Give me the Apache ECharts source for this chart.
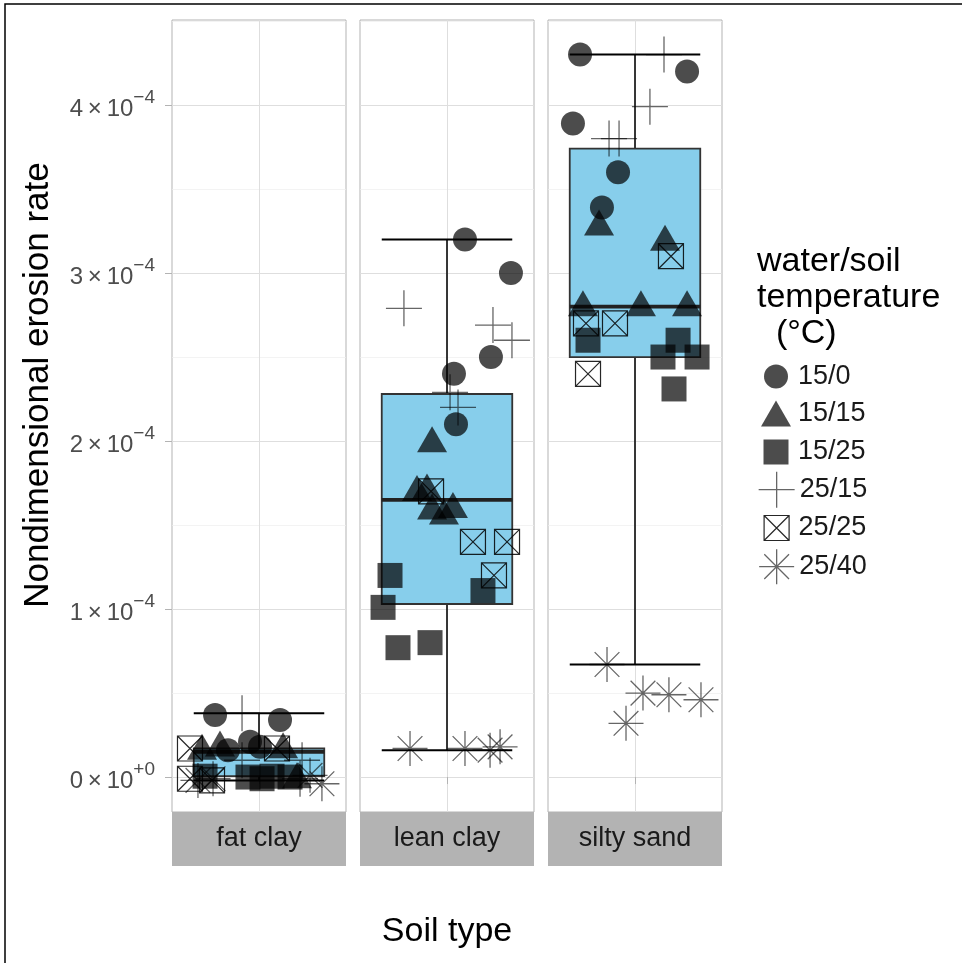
<!DOCTYPE html>
<html><head><meta charset="utf-8">
<script src="https://cdn.jsdelivr.net/npm/echarts@6/dist/echarts.min.js"></script>
<style>html,body{margin:0;padding:0;background:#fff}#c{width:962px;height:963px}</style>
</head><body><div id="c"></div><script>
// ---------------- data ----------------
const soilTypes = ['fat clay', 'lean clay', 'silty sand'];
const groups = ['15/0', '15/15', '15/25', '25/15', '25/25', '25/40'];
const majorTicks = [0, 1e-4, 2e-4, 3e-4, 4e-4];
const minorTicks = [0.5e-4, 1.5e-4, 2.5e-4, 3.5e-4, 4.5e-4];
// box stats: [x, lower whisker, Q1, median, Q3, upper whisker]
const boxFatClay   = [1, -0.02e-4, 0.005e-4, 0.15e-4, 0.17e-4, 0.38e-4];
const boxLeanClay  = [1, 0.16e-4, 1.03e-4, 1.65e-4, 2.28e-4, 3.20e-4];
const boxSiltySand = [1, 0.67e-4, 2.50e-4, 2.80e-4, 3.74e-4, 4.30e-4];
// points: [jittered x (category at 1), erosion rate]
const fat_15_0  = [[0.697,0.37e-4],[1.145,0.34e-4],[0.938,0.21e-4],[1.007,0.18e-4],[0.786,0.16e-4]];
const fat_15_15 = [[0.607,0.18e-4],[0.731,0.20e-4],[1.166,0.19e-4],[1.262,0.01e-4]];
const fat_15_25 = [[0.924,0.0],[1.021,-0.01e-4],[1.090,0.005e-4],[0.628,0.005e-4],[1.214,0.0]];
const fat_25_15 = [[0.883,0.38e-4],[0.883,0.10e-4],[1.297,0.10e-4],[1.283,-0.01e-4]];
const fat_25_25 = [[0.524,0.17e-4],[0.524,-0.01e-4],[0.676,-0.02e-4],[1.124,0.17e-4]];
const fat_25_40 = [[0.579,-0.02e-4],[0.683,-0.01e-4],[1.352,0.01e-4],[1.434,-0.04e-4]];

const lean_15_0  = [[1.124,3.20e-4],[1.441,3.00e-4],[1.303,2.50e-4],[1.048,2.40e-4],[1.062,2.10e-4]];
const lean_15_15 = [[0.897,2.01e-4],[0.793,1.72e-4],[0.862,1.73e-4],[0.897,1.61e-4],[1.041,1.62e-4],[0.979,1.58e-4]];
const lean_15_25 = [[0.607,1.20e-4],[1.248,1.11e-4],[0.559,1.01e-4],[0.662,0.77e-4],[0.883,0.80e-4]];
const lean_25_15 = [[0.703,2.79e-4],[1.317,2.69e-4],[1.448,2.60e-4],[1.021,2.29e-4],[1.076,2.20e-4]];
const lean_25_25 = [[0.890,1.70e-4],[1.179,1.40e-4],[1.414,1.40e-4],[1.324,1.20e-4]];
const lean_25_40 = [[0.745,0.17e-4],[1.124,0.17e-4],[1.297,0.16e-4],[1.366,0.18e-4]];

const silty_15_0  = [[0.621,4.30e-4],[1.359,4.20e-4],[0.572,3.89e-4],[0.883,3.60e-4],[0.772,3.39e-4]];
const silty_15_15 = [[0.752,3.30e-4],[1.207,3.21e-4],[0.641,2.82e-4],[1.041,2.82e-4],[1.359,2.82e-4]];
const silty_15_25 = [[0.676,2.60e-4],[1.297,2.60e-4],[1.193,2.50e-4],[1.428,2.50e-4],[1.269,2.31e-4]];
const silty_25_15 = [[1.200,4.30e-4],[1.103,3.99e-4],[0.821,3.80e-4],[0.890,3.80e-4]];
const silty_25_25 = [[1.248,3.10e-4],[0.662,2.70e-4],[0.862,2.70e-4],[0.676,2.40e-4]];
const silty_25_40 = [[0.807,0.67e-4],[1.055,0.50e-4],[1.234,0.49e-4],[1.455,0.46e-4],[0.938,0.32e-4]];

// ---------------- assembly ----------------
const boxes = [boxFatClay, boxLeanClay, boxSiltySand];
const points = [
  [fat_15_0, fat_15_15, fat_15_25, fat_25_15, fat_25_25, fat_25_40],
  [lean_15_0, lean_15_15, lean_15_25, lean_25_15, lean_25_25, lean_25_40],
  [silty_15_0, silty_15_15, silty_15_25, silty_25_15, silty_25_25, silty_25_40]
];
const FONT = "'Liberation Sans', Arial, sans-serif";
const YMIN = -0.208e-4, YMAX = 4.506e-4;
const BOX_W = 0.9;
const GRID_L = [172, 360, 548], GRID_W = 174, GRID_T = 20, GRID_H = 792, STRIP_H = 54;

const filled = { color: '#000', opacity: 0.7, borderWidth: 0 };
const lineSym = { color: 'rgba(0,0,0,0)', borderColor: '#000', borderWidth: 1.3, opacity: 0.6 };
const boxSym = { color: 'rgba(0,0,0,0)', borderColor: '#000', borderWidth: 1.2, opacity: 0.85 };
const shapeDefs = [
  { symbol: 'circle', size: 24, style: filled },
  { symbol: 'triangle', size: [30, 26], style: filled },
  { symbol: 'rect', size: 25, style: filled },
  { symbol: 'path://M0,-10L0,10M-10,0L10,0', size: 36, style: lineSym },
  { symbol: 'path://M-10,-10L10,-10L10,10L-10,10ZM-10,-10L10,10M10,-10L-10,10', size: 25, style: boxSym },
  { symbol: 'path://M0,-10L0,10M-10,0L10,0M-7.07,-7.07L7.07,7.07M7.07,-7.07L-7.07,7.07', size: 35, style: lineSym }
];

const grids = [], xAxes = [], yAxes = [], series = [], graphics = [];
const THIN = '\u2009';
function yLabel(v) {
  const k = Math.round(v * 1e4);
  return k === 0 ? '{b|0' + THIN + '×' + THIN + '10}{s|+0}' : '{b|' + k + THIN + '×' + THIN + '10}{s|−4}';
}
soilTypes.forEach((soil, i) => {
  grids.push({ left: GRID_L[i], top: GRID_T, width: GRID_W, height: GRID_H, show: true,
    borderColor: '#b3b3b3', borderWidth: 1, backgroundColor: 'rgba(0,0,0,0)',
    containLabel: false, outerBoundsMode: 'none' });
  xAxes.push({ gridIndex: i, type: 'value', min: 0.4, max: 1.6, offset: STRIP_H,
    axisLine: { show: false },
    axisTick: { show: true, length: 7, customValues: [1], lineStyle: { color: '#b3b3b3', width: 1 } },
    axisLabel: { show: false, customValues: [1] },
    splitLine: { show: true, lineStyle: { color: '#dedede', width: 1 } } });
  yAxes.push({ gridIndex: i, type: 'value', min: YMIN, max: YMAX, position: 'left',
    axisLine: { show: false },
    axisTick: { show: i === 0, length: 7, customValues: majorTicks, lineStyle: { color: '#b3b3b3', width: 1 } },
    axisLabel: { show: i === 0, customValues: majorTicks, margin: 17, formatter: yLabel,
      rich: { b: { fontSize: 24, color: '#4d4d4d', fontFamily: FONT, padding: [9, 0, 0, 0], verticalAlign: 'bottom' },
              s: { fontSize: 19, color: '#4d4d4d', fontFamily: FONT, verticalAlign: 'top' } } },
    splitLine: { show: true, lineStyle: { color: '#dedede', width: 1 } } });
  yAxes.push({ gridIndex: i, type: 'value', min: YMIN, max: YMAX, position: 'left',
    axisLine: { show: false }, axisLabel: { show: false },
    axisTick: { show: false, customValues: minorTicks },
    splitLine: { show: true, lineStyle: { color: '#eeeeee', width: 0.7 } } });
  series.push({
    type: 'custom', xAxisIndex: i, yAxisIndex: 2 * i, silent: true, z: 1,
    encode: { x: 0, y: [1, 2, 3, 4, 5] },
    data: [boxes[i]],
    renderItem: function (params, api) {
      const x = api.value(0);
      const pLow = api.coord([x, api.value(1)]);
      const pQ1 = api.coord([x, api.value(2)]);
      const pMed = api.coord([x, api.value(3)]);
      const pQ3 = api.coord([x, api.value(4)]);
      const pUp = api.coord([x, api.value(5)]);
      const hw = api.size([BOX_W, 0])[0] / 2;
      const cx = pMed[0];
      const ls = { stroke: '#222', lineWidth: 1.8 };
      return { type: 'group', children: [
        { type: 'line', shape: { x1: cx, y1: pLow[1], x2: cx, y2: pQ1[1] }, style: ls },
        { type: 'line', shape: { x1: cx, y1: pQ3[1], x2: cx, y2: pUp[1] }, style: ls },
        { type: 'line', shape: { x1: cx - hw, y1: pLow[1], x2: cx + hw, y2: pLow[1] }, style: { stroke: '#000', lineWidth: 2 } },
        { type: 'line', shape: { x1: cx - hw, y1: pUp[1], x2: cx + hw, y2: pUp[1] }, style: { stroke: '#000', lineWidth: 2 } },
        { type: 'rect', shape: { x: cx - hw, y: pQ3[1], width: 2 * hw, height: pQ1[1] - pQ3[1] },
          style: { fill: '#87CEEB', stroke: '#333', lineWidth: 1.8 } },
        { type: 'line', shape: { x1: cx - hw, y1: pMed[1], x2: cx + hw, y2: pMed[1] }, style: { stroke: '#222', lineWidth: 3.6 } }
      ] };
    }
  });
  groups.forEach((g, j) => {
    const d = shapeDefs[j];
    series.push({ type: 'scatter', name: g, xAxisIndex: i, yAxisIndex: 2 * i, z: 3,
      symbol: d.symbol, symbolSize: d.size, itemStyle: d.style,
      emphasis: { disabled: true }, data: points[i][j] });
  });
  // facet strip
  graphics.push({ type: 'rect', silent: true, shape: { x: GRID_L[i], y: GRID_T + GRID_H, width: GRID_W, height: STRIP_H },
    style: { fill: '#b3b3b3' } });
  graphics.push({ type: 'text', silent: true, x: GRID_L[i] + GRID_W / 2, y: GRID_T + GRID_H + STRIP_H / 2,
    style: { text: soil, fontSize: 27, fontFamily: FONT, fill: '#1a1a1a', align: 'center', verticalAlign: 'middle' } });
});

// axis titles & outer frame
graphics.push({ type: 'text', silent: true, x: 38, y: 385, rotation: Math.PI / 2,
  style: { text: 'Nondimensional erosion rate', fontSize: 35, fontFamily: FONT, fill: '#000', align: 'center', verticalAlign: 'middle' } });
graphics.push({ type: 'text', silent: true, x: 447, y: 932,
  style: { text: 'Soil type', fontSize: 34, fontFamily: FONT, fill: '#000', align: 'center', verticalAlign: 'middle' } });
graphics.push({ type: 'rect', silent: true, z: -10, shape: { x: 5, y: 4, width: 1100, height: 1100 },
  style: { fill: 'none', stroke: '#000', lineWidth: 1.5 } });

// legends (one per key so each key keeps its own size)
const legendKeyY = [375, 413, 451, 489, 527, 566];
const legends = groups.map((g, j) => {
  const d = shapeDefs[j];
  const w = Array.isArray(d.size) ? d.size[0] : d.size;
  const h = Array.isArray(d.size) ? d.size[1] : d.size;
  return { show: true, orient: 'vertical', left: 776 - w / 2, top: legendKeyY[j] - h / 2, padding: 0,
    itemWidth: w, itemHeight: h, itemGap: 0, selectedMode: false,
    data: [{ name: g, icon: d.symbol }],
    itemStyle: Object.assign({}, d.style),
    textStyle: { fontSize: 27, fontFamily: FONT, color: '#1a1a1a', padding: [0, 0, 0, Math.max(0, 17 - w / 2)] } };
});

const option = {
  backgroundColor: '#fff',
  animation: false,
  title: { text: 'water/soil\ntemperature\n  (°C)', left: 757, top: 244, padding: 0,
    textStyle: { fontSize: 34, fontWeight: 'normal', color: '#000', fontFamily: FONT, lineHeight: 36 } },
  legend: legends,
  grid: grids, xAxis: xAxes, yAxis: yAxes, series: series, graphic: graphics
};
const chart = echarts.init(document.getElementById('c'), null, { renderer: 'canvas' });
chart.setOption(option);
</script></body></html>
